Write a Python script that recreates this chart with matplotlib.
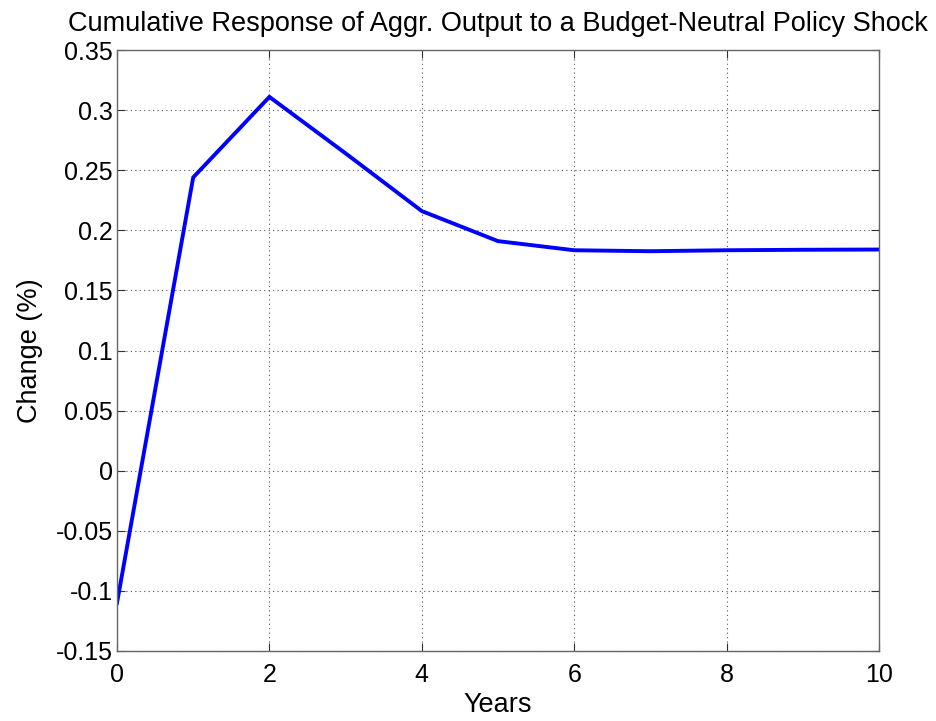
import matplotlib
matplotlib.use("Agg")
import matplotlib.pyplot as plt
from matplotlib.ticker import FixedLocator, FuncFormatter

years = [0, 1, 2, 3, 4, 5, 6, 7, 8, 9, 10]
cumulative_output = [-0.110, 0.244, 0.311, 0.264, 0.216, 0.191, 0.1834, 0.1826, 0.1834, 0.1838, 0.1840]

x_ticks = [0, 2, 4, 6, 8, 10]
y_ticks = [-0.15, -0.10, -0.05, 0.0, 0.05, 0.10, 0.15, 0.20, 0.25, 0.30, 0.35]

title_text = "Cumulative Response of Aggr. Output to a Budget-Neutral Policy Shock"
x_label = "Years"
y_label = "Change (%)"

plt.rcParams["font.family"] = ["Liberation Sans", "DejaVu Sans"]

fig = plt.figure(figsize=(9.37, 7.21), dpi=100)
ax = fig.add_axes([117 / 937, 70 / 721, 762 / 937, 601 / 721])

ax.plot(years, cumulative_output, color="#0000ff", linewidth=2.8, solid_joinstyle="miter")

ax.set_xlim(0, 10)
ax.set_ylim(-0.15, 0.35)
ax.xaxis.set_major_locator(FixedLocator(x_ticks))
ax.yaxis.set_major_locator(FixedLocator(y_ticks))


def trim_zeros(v, pos=None):
    s = f"{v:.2f}".rstrip("0").rstrip(".")
    if s in ("-0", ""):
        s = "0"
    return s


ax.xaxis.set_major_formatter(FuncFormatter(lambda v, p: f"{v:g}"))
ax.yaxis.set_major_formatter(FuncFormatter(trim_zeros))

ax.tick_params(direction="in", length=6, width=0.8, colors="#333333",
               labelcolor="black", labelsize=18, top=True, right=True)
ax.tick_params(axis="y", pad=3)
ax.tick_params(axis="x", pad=9)
ax.grid(True, linestyle=(0, (1, 3)), color="#555555", linewidth=0.8)
for sp in ax.spines.values():
    sp.set_color("#666666")
    sp.set_linewidth(1.0)

ax.set_title(title_text, fontsize=19.5, pad=14)
ax.set_xlabel(x_label, fontsize=19.5, labelpad=3)
ax.set_ylabel(y_label, fontsize=19.5, labelpad=9)

fig.savefig("out.png", dpi=100, facecolor="white")
